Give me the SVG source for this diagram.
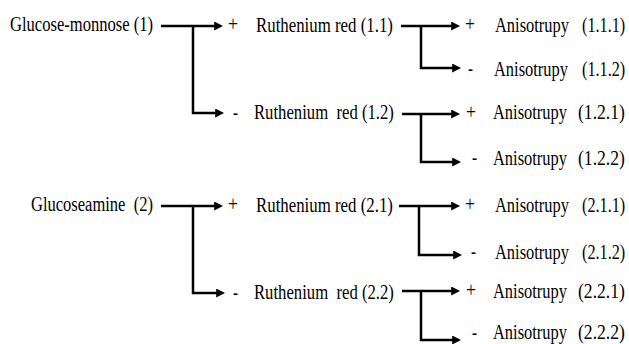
<svg xmlns="http://www.w3.org/2000/svg" width="629" height="344" viewBox="0 0 629 344">
<style>
text{font-family:"Liberation Serif","Times New Roman",serif;font-size:20px;fill:#000;white-space:pre}
.c path{fill:none;stroke:#000;stroke-width:2.5;marker-end:url(#ah)}
</style>
<defs>
<marker id="ah" viewBox="0 0 10 10" refX="2" refY="5" markerWidth="9" markerHeight="9" markerUnits="userSpaceOnUse" orient="auto">
<path d="M0,0 L10,5 L0,10 z" fill="#000"/>
</marker>
</defs>
<rect width="629" height="344" fill="#fff"/>
<g id="connectors" class="c">
<path d="M161,26 H216"/>
<path d="M193,26 V113 H217"/>
<path d="M401,26 H453"/>
<path d="M421,26 V68 H454"/>
<path d="M402,114 H453"/>
<path d="M421,114 V162 H454"/>
<path d="M161,206 H216"/>
<path d="M193,206 V293 H218"/>
<path d="M399,206 H453"/>
<path d="M419,206 V255 H455"/>
<path d="M402,291 H453"/>
<path d="M421,291 V340 H454"/>
</g>
<g id="n1"><text transform="translate(10,31) scale(0.828,1)">Glucose-monnose (1)</text></g>
<g id="n1_1">
<text transform="translate(228,31) scale(0.88,1)">+</text>
<text transform="translate(256,32) scale(0.842,1)">Ruthenium red (1.1)</text>
</g>
<g id="n1_1_1">
<text transform="translate(465,31) scale(0.88,1)">+</text>
<text transform="translate(495,32) scale(0.822,1)">Anisotrupy</text>
<text transform="translate(582,32) scale(0.81,1)">(1.1.1)</text>
</g>
<g id="n1_1_2">
<text transform="translate(468,75) scale(0.75,1)">-</text>
<text transform="translate(494,76) scale(0.822,1)">Anisotrupy</text>
<text transform="translate(582,76) scale(0.81,1)">(1.1.2)</text>
</g>
<g id="n1_2">
<text transform="translate(233,119) scale(0.75,1)">-</text>
<text transform="translate(254,119) scale(0.834,1)">Ruthenium  red (1.2)</text>
</g>
<g id="n1_2_1">
<text transform="translate(466,119) scale(0.88,1)">+</text>
<text transform="translate(493,119) scale(0.822,1)">Anisotrupy</text>
<text transform="translate(578,119) scale(0.88,1)">(1.2.1)</text>
</g>
<g id="n1_2_2">
<text transform="translate(472,164) scale(0.75,1)">-</text>
<text transform="translate(493,165) scale(0.822,1)">Anisotrupy</text>
<text transform="translate(578,165) scale(0.88,1)">(1.2.2)</text>
</g>
<g id="n2"><text transform="translate(31,211) scale(0.826,1)">Glucoseamine  (2)</text></g>
<g id="n2_1">
<text transform="translate(228,211) scale(0.88,1)">+</text>
<text transform="translate(256,212) scale(0.842,1)">Ruthenium red (2.1)</text>
</g>
<g id="n2_1_1">
<text transform="translate(465,211) scale(0.88,1)">+</text>
<text transform="translate(495,212) scale(0.822,1)">Anisotrupy</text>
<text transform="translate(582,212) scale(0.81,1)">(2.1.1)</text>
</g>
<g id="n2_1_2">
<text transform="translate(471,258) scale(0.75,1)">-</text>
<text transform="translate(495,259) scale(0.822,1)">Anisotrupy</text>
<text transform="translate(582,259) scale(0.81,1)">(2.1.2)</text>
</g>
<g id="n2_2">
<text transform="translate(233,299) scale(0.75,1)">-</text>
<text transform="translate(254,299) scale(0.834,1)">Ruthenium  red (2.2)</text>
</g>
<g id="n2_2_1">
<text transform="translate(466,297) scale(0.88,1)">+</text>
<text transform="translate(493,298) scale(0.822,1)">Anisotrupy</text>
<text transform="translate(578,298) scale(0.88,1)">(2.2.1)</text>
</g>
<g id="n2_2_2">
<text transform="translate(472,339) scale(0.75,1)">-</text>
<text transform="translate(493,339) scale(0.822,1)">Anisotrupy</text>
<text transform="translate(578,339) scale(0.88,1)">(2.2.2)</text>
</g>
</svg>
